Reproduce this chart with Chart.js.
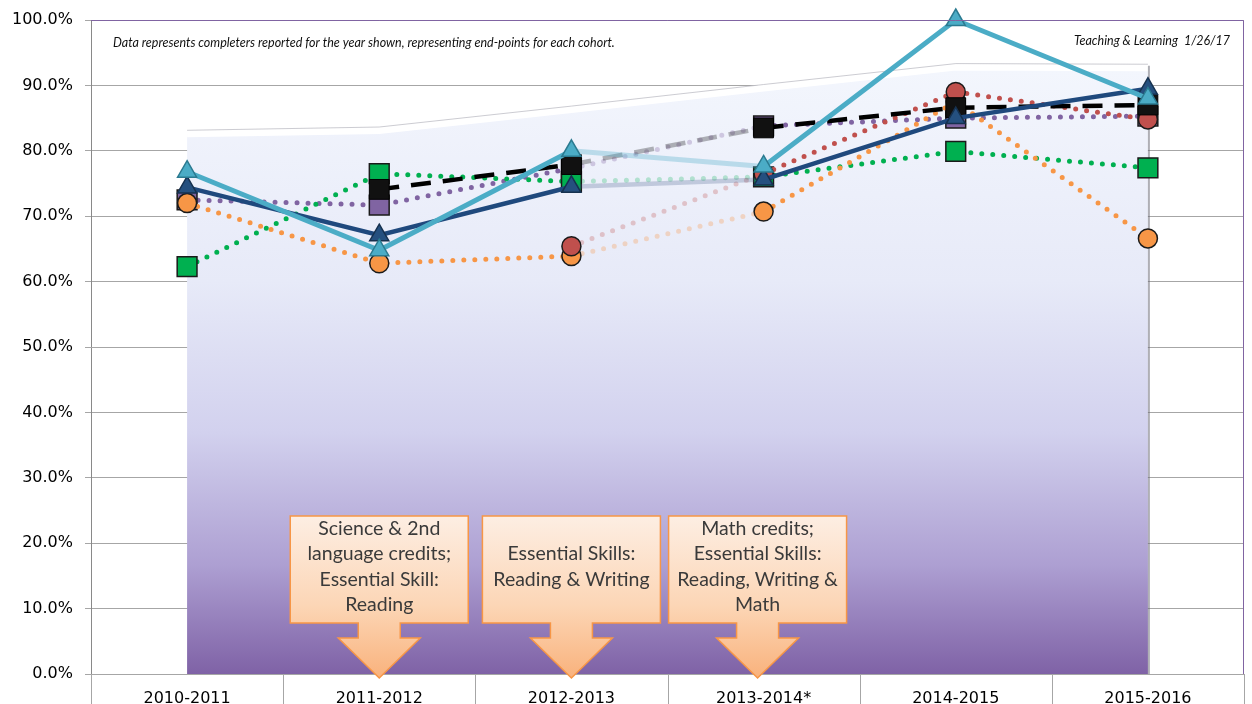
<!DOCTYPE html>
<html>
<head>
<meta charset="utf-8">
<script src="https://cdn.jsdelivr.net/npm/chart.js@4.4.0/dist/chart.umd.min.js"></script>
<style>
  html, body { margin: 0; padding: 0; background: #fff; }
  #wrap { width: 1252px; height: 704px; }
</style>
</head>
<body>
<div id="wrap"><canvas id="chart" width="1252" height="704"></canvas></div>
<script>
// categories
const years = ['2010-2011', '2011-2012', '2012-2013', '2013-2014*', '2014-2015', '2015-2016'];

// series (percent)
const lightBlue = [76.8, 64.8, 80.0, 77.6, 100.0, 88.0];
const darkBlue  = [74.4, 67.1, 74.5, 75.6, 85.0, 89.5];
const blackDash = [null, 74.1, 77.9, 83.5, 86.6, 87.0];
const purpleDot = [72.5, 71.7, 77.3, 83.8, 85.0, 85.3];
const greenDot  = [62.3, 76.5, 75.3, 76.0, 79.9, 77.4];
const orangeDot = [72.0, 62.8, 63.9, 70.7, 87.5, 66.6];
const redDot    = [null, null, 65.4, 76.5, 89.0, 84.8];
// background shaded area
const backArea  = [82.6, 83.1, 86.3, 89.6, 92.8, 92.7];

const yTicks = { min: 0, max: 100, step: 10 };

// callout notes (index of category the arrow points at)
const notes = [
  { at: 1, lines: ['Science & 2nd', 'language credits;', 'Essential Skill:', 'Reading'] },
  { at: 2, lines: ['Essential Skills:', 'Reading & Writing'] },
  { at: 3, lines: ['Math credits;', 'Essential Skills:', 'Reading, Writing &', 'Math'], shift: -6 }
];

const noteLeft = 'Data represents completers reported for the year shown, representing end-points for each cohort.';
const noteRight = 'Teaching & Learning  1/26/17';

// fade the 2012-2013 -> 2013-2014 segment
const fadeSeg = faded => ({ borderColor: c => c.p0DataIndex === 2 ? faded : undefined });

function dotted(label, data, color, faded, marker, order) {
  return {
    label, data, order,
    borderColor: color, borderWidth: 5,
    borderDash: [0, 11], borderCapStyle: 'round',
    pointStyle: marker.style, pointRadius: marker.r,
    pointBackgroundColor: color, pointBorderColor: '#1a1a1a', pointBorderWidth: 1.5,
    segment: fadeSeg(faded)
  };
}

function areaFill(context) {
  const chart = context.chart;
  const a = chart.chartArea;
  if (!a) return '#e8ebf8';
  const g = chart.ctx.createLinearGradient(0, a.top + 50, 0, a.bottom);
  g.addColorStop(0, '#f3f6fd');
  g.addColorStop(0.35, '#e7eaf8');
  g.addColorStop(0.6, '#d2d1ee');
  g.addColorStop(0.82, '#ad9fd2');
  g.addColorStop(1, '#7f62a6');
  return g;
}

const extras = {
  id: 'extras',
  beforeDraw(chart) {
    const ctx = chart.ctx;
    ctx.save();
    ctx.fillStyle = '#fff';
    ctx.fillRect(0, 0, chart.width, chart.height);
    ctx.restore();
  },
  afterDatasetDraw(chart, args) {
    if (args.index !== 7) return;
    // shaded right edge of the area
    const ctx = chart.ctx;
    const meta = chart.getDatasetMeta(7);
    const last = meta.data[meta.data.length - 1];
    ctx.save();
    ctx.strokeStyle = 'rgba(110,110,120,0.55)';
    ctx.lineWidth = 2;
    ctx.beginPath();
    ctx.moveTo(last.x + 1, last.y - 2);
    ctx.lineTo(last.x + 1, chart.chartArea.bottom);
    ctx.stroke();
    ctx.strokeStyle = 'rgba(170,170,180,0.6)';
    ctx.lineWidth = 1;
    ctx.beginPath();
    meta.data.forEach((p, i) => i ? ctx.lineTo(p.x, p.y - 3.5) : ctx.moveTo(p.x, p.y - 3.5));
    ctx.stroke();
    ctx.restore();
  },
  afterDraw(chart) {
    const ctx = chart.ctx;
    const a = chart.chartArea;
    const x = chart.scales.x;
    ctx.save();
    // category separators below the axis
    ctx.strokeStyle = '#a6a6a6';
    ctx.lineWidth = 1;
    for (let i = 0; i <= years.length; i++) {
      const px = Math.round(a.left + (a.right - a.left) * i / years.length) + 0.5;
      ctx.beginPath();
      ctx.moveTo(px, a.bottom);
      ctx.lineTo(px, chart.height);
      ctx.stroke();
    }
    // plot border top and right
    ctx.strokeStyle = '#8064a2';
    ctx.beginPath();
    ctx.moveTo(a.left, a.top + 0.5);
    ctx.lineTo(a.right - 0.5, a.top + 0.5);
    ctx.lineTo(a.right - 0.5, a.bottom);
    ctx.stroke();

    // notes
    ctx.fillStyle = '#111';
    ctx.font = 'italic 12.5px Lato';
    ctx.textBaseline = 'middle';
    ctx.textAlign = 'left';
    ctx.fillText(noteLeft, 113, 43);
    ctx.textAlign = 'right';
    ctx.fillText(noteRight, 1230, 41);

    // callout arrows
    notes.forEach(n => {
      const cx = x.getPixelForValue(n.at) + (n.shift || 0);
      const l = cx - 89, r = cx + 89;
      const top = a.bottom - 158, bot = a.bottom - 51;
      const neck = a.bottom - 36, tip = a.bottom + 4;
      const g = ctx.createLinearGradient(0, top, 0, tip);
      g.addColorStop(0, '#fdeee3');
      g.addColorStop(0.55, '#fcd6b6');
      g.addColorStop(1, '#f9b27c');
      ctx.beginPath();
      ctx.moveTo(l, top);
      ctx.lineTo(r, top);
      ctx.lineTo(r, bot);
      ctx.lineTo(cx + 21, bot);
      ctx.lineTo(cx + 21, neck);
      ctx.lineTo(cx + 41, neck);
      ctx.lineTo(cx, tip);
      ctx.lineTo(cx - 41, neck);
      ctx.lineTo(cx - 21, neck);
      ctx.lineTo(cx - 21, bot);
      ctx.lineTo(l, bot);
      ctx.closePath();
      ctx.fillStyle = g;
      ctx.fill();
      ctx.strokeStyle = '#f79646';
      ctx.lineWidth = 1.5;
      ctx.stroke();
      ctx.fillStyle = '#3a3a3a';
      ctx.font = '19.5px Lato';
      ctx.textAlign = 'center';
      const lh = 25.5;
      const mid = (top + bot) / 2 - 3;
      n.lines.forEach((t, i) => {
        ctx.fillText(t, cx, mid + (i - (n.lines.length - 1) / 2) * lh);
      });
    });
    ctx.restore();
  }
};

new Chart(document.getElementById('chart'), {
  type: 'line',
  data: {
    labels: years,
    datasets: [
      {
        label: 'Light blue', data: lightBlue, order: 1,
        borderColor: '#4bacc6', borderWidth: 5,
        pointStyle: 'triangle', pointRadius: 11,
        pointBackgroundColor: '#4bacc6', pointBorderColor: '#2b7a90', pointBorderWidth: 1.5,
        segment: fadeSeg('rgba(75,172,198,0.32)')
      },
      {
        label: 'Dark blue', data: darkBlue, order: 2,
        borderColor: '#1f497d', borderWidth: 4.5,
        pointStyle: 'triangle', pointRadius: 11,
        pointBackgroundColor: '#25507f', pointBorderColor: '#16314f', pointBorderWidth: 1.5,
        segment: fadeSeg('rgba(60,85,130,0.25)')
      },
      {
        label: 'Black', data: blackDash, order: 3,
        borderColor: '#000', borderWidth: 4.5, borderDash: [20, 12],
        pointStyle: 'rect', pointRadius: 14,
        pointBackgroundColor: '#111', pointBorderColor: '#000', pointBorderWidth: 1,
        segment: fadeSeg('rgba(0,0,0,0.28)')
      },
      dotted('Red', redDot, '#c0504d', 'rgba(192,80,77,0.28)', { style: 'circle', r: 9.5 }, 4),
      dotted('Orange', orangeDot, '#f79646', 'rgba(247,150,70,0.3)', { style: 'circle', r: 9.5 }, 5),
      dotted('Green', greenDot, '#00b050', 'rgba(0,176,80,0.25)', { style: 'rect', r: 14 }, 6),
      dotted('Purple', purpleDot, '#8064a2', 'rgba(128,100,162,0.3)', { style: 'rect', r: 14 }, 7),
      {
        label: 'Area', data: backArea, order: 10,
        fill: 'origin', backgroundColor: areaFill,
        borderColor: '#ffffff', borderWidth: 7, pointRadius: 0
      }
    ]
  },
  options: {
    responsive: false,
    animation: false,
    devicePixelRatio: 1,
    events: [],
    clip: false,
    layout: { autoPadding: false, padding: { top: 16, right: 8, left: 0, bottom: 0 } },
    elements: { line: { tension: 0 } },
    plugins: { legend: { display: false }, tooltip: { enabled: false } },
    scales: {
      x: {
        offset: true,
        grid: { display: false },
        border: { display: true, color: '#a6a6a6' },
        ticks: { color: '#000', font: { family: 'DejaVu Sans', size: 16 }, padding: 7, maxRotation: 0 },
        afterFit: s => { s.height = 30; }
      },
      y: {
        min: yTicks.min, max: yTicks.max,
        ticks: {
          stepSize: yTicks.step, color: '#000', padding: 12,
          font: { family: 'DejaVu Sans', size: 16, lineHeight: 1 },
          callback: v => v.toFixed(1) + '%'
        },
        grid: { color: '#a6a6a6', tickLength: 6 },
        border: { color: '#898989' },
        afterFit: s => { s.width = 91; }
      }
    }
  },
  plugins: [extras]
});
</script>
</body>
</html>
